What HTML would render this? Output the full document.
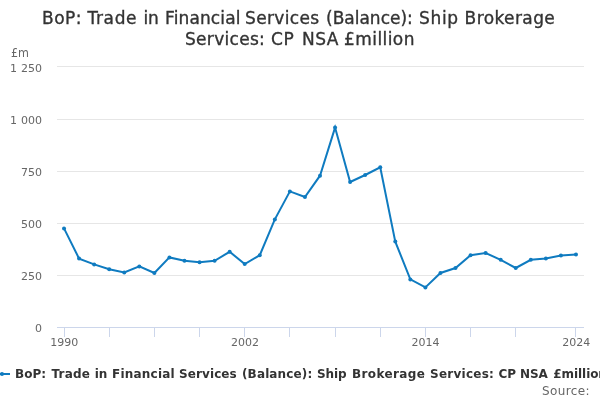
<!DOCTYPE html>
<html><head><meta charset="utf-8"><title>Chart</title>
<style>
html,body{margin:0;padding:0;background:#fff;}
body{width:600px;height:400px;overflow:hidden;}
svg{display:block;font-family:"DejaVu Sans","Liberation Sans",sans-serif;}
.lab text{font-size:11px;fill:#666666;word-spacing:0.6px;}
</style></head><body>
<svg width="600" height="400" viewBox="0 0 600 400">
<rect x="0" y="0" width="600" height="400" fill="#ffffff"/>
<g stroke="#E6E6E6" stroke-width="1" fill="none"><path d="M 57 66.5 L 584 66.5"/><path d="M 57 119.5 L 584 119.5"/><path d="M 57 171.5 L 584 171.5"/><path d="M 57 223.5 L 584 223.5"/><path d="M 57 275.5 L 584 275.5"/></g>
<path d="M 57 327.5 L 584 327.5" stroke="#ccd6eb" stroke-width="1" fill="none"/>
<g stroke="#ccd6eb" stroke-width="1" fill="none"><path d="M 64.5 328 L 64.5 337"/><path d="M 109.5 328 L 109.5 337"/><path d="M 154.5 328 L 154.5 337"/><path d="M 199.5 328 L 199.5 337"/><path d="M 244.5 328 L 244.5 337"/><path d="M 289.5 328 L 289.5 337"/><path d="M 335.5 328 L 335.5 337"/><path d="M 380.5 328 L 380.5 337"/><path d="M 425.5 328 L 425.5 337"/><path d="M 470.5 328 L 470.5 337"/><path d="M 515.5 328 L 515.5 337"/><path d="M 575.5 328 L 575.5 337"/></g>
<path d="M 64.03 228.40 L 79.09 258.60 L 94.14 264.40 L 109.20 269.20 L 124.26 272.40 L 139.31 266.40 L 154.37 273.00 L 169.43 257.40 L 184.49 260.80 L 199.54 262.20 L 214.60 260.80 L 229.66 251.80 L 244.71 264.00 L 259.77 255.20 L 274.83 219.40 L 289.89 191.40 L 304.94 197.00 L 320.00 175.70 L 335.06 127.60 L 350.11 182.00 L 365.17 175.00 L 380.23 167.30 L 395.29 241.60 L 410.34 279.40 L 425.40 287.40 L 440.46 273.00 L 455.51 268.00 L 470.57 255.20 L 485.63 253.00 L 500.69 259.80 L 515.74 268.00 L 530.80 259.80 L 545.86 258.60 L 560.91 255.40 L 575.97 254.60" fill="none" stroke="#0F7BC0" stroke-width="2" stroke-linejoin="miter" stroke-linecap="round"/>
<g fill="#0F7BC0"><circle cx="64.03" cy="228.40" r="2"/><circle cx="79.09" cy="258.60" r="2"/><circle cx="94.14" cy="264.40" r="2"/><circle cx="109.20" cy="269.20" r="2"/><circle cx="124.26" cy="272.40" r="2"/><circle cx="139.31" cy="266.40" r="2"/><circle cx="154.37" cy="273.00" r="2"/><circle cx="169.43" cy="257.40" r="2"/><circle cx="184.49" cy="260.80" r="2"/><circle cx="199.54" cy="262.20" r="2"/><circle cx="214.60" cy="260.80" r="2"/><circle cx="229.66" cy="251.80" r="2"/><circle cx="244.71" cy="264.00" r="2"/><circle cx="259.77" cy="255.20" r="2"/><circle cx="274.83" cy="219.40" r="2"/><circle cx="289.89" cy="191.40" r="2"/><circle cx="304.94" cy="197.00" r="2"/><circle cx="320.00" cy="175.70" r="2"/><circle cx="335.06" cy="127.60" r="2"/><circle cx="350.11" cy="182.00" r="2"/><circle cx="365.17" cy="175.00" r="2"/><circle cx="380.23" cy="167.30" r="2"/><circle cx="395.29" cy="241.60" r="2"/><circle cx="410.34" cy="279.40" r="2"/><circle cx="425.40" cy="287.40" r="2"/><circle cx="440.46" cy="273.00" r="2"/><circle cx="455.51" cy="268.00" r="2"/><circle cx="470.57" cy="255.20" r="2"/><circle cx="485.63" cy="253.00" r="2"/><circle cx="500.69" cy="259.80" r="2"/><circle cx="515.74" cy="268.00" r="2"/><circle cx="530.80" cy="259.80" r="2"/><circle cx="545.86" cy="258.60" r="2"/><circle cx="560.91" cy="255.40" r="2"/><circle cx="575.97" cy="254.60" r="2"/></g>
<text y="23.6" font-size="17px" fill="#333333" stroke="#333333" stroke-width="0.35"><tspan x="42.0" letter-spacing="0.467">BoP: </tspan><tspan x="87.4" letter-spacing="0.650">Trade </tspan><tspan x="143.5" letter-spacing="-0.150">in </tspan><tspan x="165.0" letter-spacing="0.125">Financial </tspan><tspan x="245.0" letter-spacing="0.343">Services </tspan><tspan x="326.0" letter-spacing="0.000">(Balance): </tspan><tspan x="419.0" letter-spacing="0.667">Ship </tspan><tspan x="464.6" letter-spacing="0.400">Brokerage</tspan></text>
<text y="44.6" font-size="17px" fill="#333333" stroke="#333333" stroke-width="0.35"><tspan x="185.0" letter-spacing="0.300">Services: </tspan><tspan x="271.0" letter-spacing="0.600">CP </tspan><tspan x="302.0" letter-spacing="0.500">NSA </tspan><tspan x="344.0" letter-spacing="0.429">£million</tspan></text>
<g class="lab"><text x="11" y="57" style="font-size:12px" textLength="18" lengthAdjust="spacingAndGlyphs">£m</text><text x="42" y="71.5" text-anchor="end">1 250</text><text x="42" y="123.5" text-anchor="end">1 000</text><text x="42" y="175.5" text-anchor="end">750</text><text x="42" y="227.5" text-anchor="end">500</text><text x="42" y="279.5" text-anchor="end">250</text><text x="42" y="332" text-anchor="end">0</text><text x="64.23" y="346" text-anchor="middle">1990</text><text x="244.91" y="346" text-anchor="middle">2002</text><text x="425.60" y="346" text-anchor="middle">2014</text><text x="576.17" y="346" text-anchor="middle">2024</text></g>
<path d="M -6 374 L 10 374" stroke="#0F7BC0" stroke-width="2" fill="none"/>
<circle cx="2" cy="374" r="2" fill="#0F7BC0"/>
<text y="377.5" font-size="12px" font-weight="bold" fill="#333333"><tspan x="15.0" letter-spacing="0.000">BoP: </tspan><tspan x="51.5" letter-spacing="0.200">Trade </tspan><tspan x="94.7" letter-spacing="-0.150">in </tspan><tspan x="112.0" letter-spacing="0.225">Financial </tspan><tspan x="179.0" letter-spacing="0.100">Services </tspan><tspan x="242.0" letter-spacing="0.133">(Balance): </tspan><tspan x="317.0" letter-spacing="-0.133">Ship </tspan><tspan x="352.0" letter-spacing="0.375">Brokerage </tspan><tspan x="430.0" letter-spacing="0.250">Services: </tspan><tspan x="498.5" letter-spacing="-0.150">CP </tspan><tspan x="520.1" letter-spacing="-0.150">NSA </tspan><tspan x="553.3" letter-spacing="-0.071">£million</tspan></text>
<text x="542" y="394.7" font-size="12px" fill="#666666" textLength="47.5" lengthAdjust="spacing">Source:</text>
</svg>
</body></html>
